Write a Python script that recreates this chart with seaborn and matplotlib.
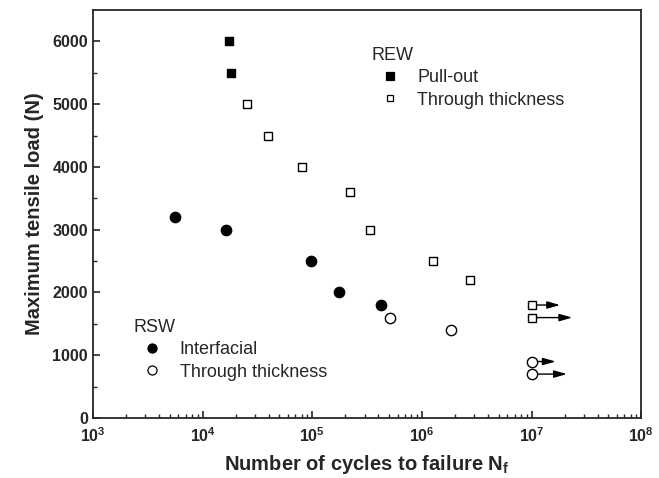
import matplotlib
matplotlib.use("Agg")
import matplotlib.pyplot as plt
import numpy as np
import pandas as pd
import seaborn as sns
from matplotlib.lines import Line2D

# REW data
rew_pull_cycles = [1.75e4, 1.8e4]
rew_pull_load = [6000, 5500]
rew_thick_cycles = [2.55e4, 3.95e4, 8.1e4, 2.2e5, 3.35e5, 1.25e6, 2.75e6, 1e7, 1e7]
rew_thick_load = [5000, 4500, 4000, 3600, 3000, 2500, 2200, 1800, 1600]

# RSW data
rsw_inter_cycles = [5.6e3, 1.63e4, 9.8e4, 1.75e5, 4.25e5]
rsw_inter_load = [3200, 3000, 2500, 2000, 1800]
rsw_thick_cycles = [5.1e5, 1.85e6, 1e7, 1e7]
rsw_thick_load = [1600, 1400, 900, 700]

# run-outs (no failure) drawn with arrows
runout_start = [1e7, 1e7, 1e7, 1e7]
runout_end = [1.82e7, 2.35e7, 1.66e7, 2.1e7]
runout_load = [1800, 1600, 900, 700]

sns.set_style("ticks")
plt.rcParams["font.family"] = ["Liberation Sans", "DejaVu Sans"]
plt.rcParams["mathtext.fontset"] = "custom"
plt.rcParams["mathtext.bf"] = "Liberation Sans:bold"
plt.rcParams["mathtext.rm"] = "Liberation Sans"

fig = plt.figure(figsize=(6.59, 4.78), dpi=100)
ax = fig.add_axes([0.141, 0.1255, 0.832, 0.8535])

def scatter(x, y, marker, face, size):
    df = pd.DataFrame({"x": x, "y": y})
    sns.scatterplot(data=df, x="x", y="y", marker=marker, s=size,
                    color=face, edgecolor="black", linewidth=1.0, ax=ax, zorder=3)

# arrows first so markers sit on top
for x0, x1, y in zip(runout_start, runout_end, runout_load):
    ax.annotate("", xy=(x1, y), xytext=(x0, y),
                arrowprops=dict(arrowstyle="-|>,head_length=0.7,head_width=0.2",
                                color="black", lw=1.0,
                                mutation_scale=11, shrinkA=0, shrinkB=0),
                zorder=2)

scatter(rew_pull_cycles, rew_pull_load, "s", "black", 38)
scatter(rew_thick_cycles, rew_thick_load, "s", "white", 38)
scatter(rsw_inter_cycles, rsw_inter_load, "o", "black", 55)
scatter(rsw_thick_cycles, rsw_thick_load, "o", "white", 55)

ax.set_xscale("log")
ax.set_xlim(1e3, 1e8)
ax.set_ylim(0, 6500)
ax.set_yticks([0, 1000, 2000, 3000, 4000, 5000, 6000])
ax.set_yticks(np.arange(500, 6500, 1000), minor=True)
ax.tick_params(which="both", direction="in", top=False, right=False)
ax.tick_params(which="major", length=5, width=1.2, labelsize=11.5)
ax.tick_params(which="minor", length=3, width=1.0)
ax.tick_params(axis="x", pad=6)
for lab in ax.get_xticklabels() + ax.get_yticklabels():
    lab.set_fontweight("bold")
for sp in ax.spines.values():
    sp.set_linewidth(1.3)

ax.set_xlabel(r"Number of cycles to failure $\mathbf{N_f}$", fontsize=14.5,
              fontweight="bold", labelpad=6)
ax.set_ylabel("Maximum tensile load (N)", fontsize=14.5, fontweight="bold", labelpad=6)

def handle(marker, face, size):
    return Line2D([], [], marker=marker, linestyle="", markersize=size,
                  markerfacecolor=face, markeredgecolor="black", markeredgewidth=0.9)

leg_kw = dict(loc="upper left", frameon=False, fontsize=13, title_fontsize=13,
              handletextpad=0.55, labelspacing=0.3, alignment="left",
              handlelength=2.0, borderpad=0, borderaxespad=0)
leg_rew = ax.legend([handle("s", "black", 5.5), handle("s", "white", 5)],
                    ["Pull-out", "Through thickness"], title="REW",
                    bbox_to_anchor=(0.508, 0.91), **leg_kw)
ax.add_artist(leg_rew)
ax.legend([handle("o", "black", 6.5), handle("o", "white", 6.5)],
          ["Interfacial", "Through thickness"], title="RSW",
          bbox_to_anchor=(0.074, 0.243), **leg_kw)

fig.savefig("out.png", dpi=100)
